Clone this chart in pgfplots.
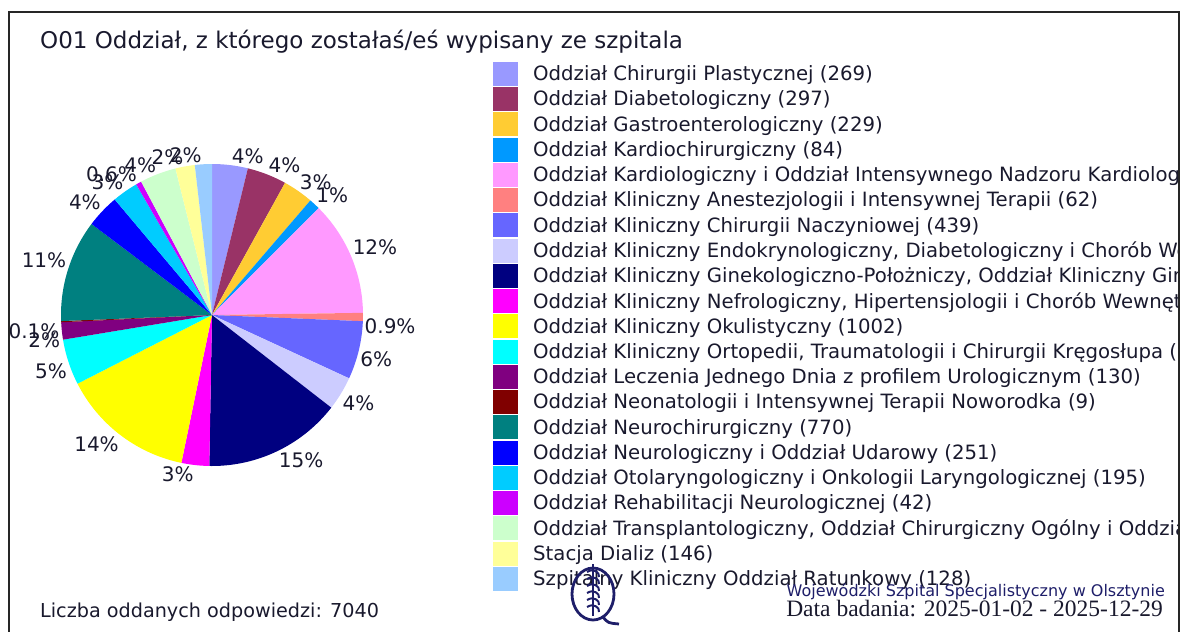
\documentclass[border=0pt]{standalone}
\usepackage{fontspec}
\setmainfont{DejaVu Sans}
\newfontfamily\seriff{Liberation Serif}
\usepackage{pgfplots}
\pgfplotsset{compat=1.18}
\usepackage{pgfplotstable}

\definecolor{pie0}{HTML}{9999FF}
\definecolor{pie1}{HTML}{993366}
\definecolor{pie2}{HTML}{FFCC33}
\definecolor{pie3}{HTML}{0099FF}
\definecolor{pie4}{HTML}{FF99FF}
\definecolor{pie5}{HTML}{FF8080}
\definecolor{pie6}{HTML}{6666FF}
\definecolor{pie7}{HTML}{CCCCFF}
\definecolor{pie8}{HTML}{000080}
\definecolor{pie9}{HTML}{FF00FF}
\definecolor{pie10}{HTML}{FFFF00}
\definecolor{pie11}{HTML}{00FFFF}
\definecolor{pie12}{HTML}{800080}
\definecolor{pie13}{HTML}{800000}
\definecolor{pie14}{HTML}{008080}
\definecolor{pie15}{HTML}{0000FF}
\definecolor{pie16}{HTML}{00CCFF}
\definecolor{pie17}{HTML}{CC00FF}
\definecolor{pie18}{HTML}{CCFFCC}
\definecolor{pie19}{HTML}{FFFF99}
\definecolor{pie20}{HTML}{99CCFF}
\definecolor{txt}{RGB}{25,25,45}
\definecolor{navy}{RGB}{30,30,105}

\pgfplotstableread[col sep=semicolon]{
n;name
269;Oddział Chirurgii Plastycznej
297;Oddział Diabetologiczny
229;Oddział Gastroenterologiczny
84;Oddział Kardiochirurgiczny
865;Oddział Kardiologiczny i Oddział Intensywnego Nadzoru Kardiologicznego
62;Oddział Kliniczny Anestezjologii i Intensywnej Terapii
439;Oddział Kliniczny Chirurgii Naczyniowej
255;Oddział Kliniczny Endokrynologiczny, Diabetologiczny i Chorób Wewnętrznych
1040;Oddział Kliniczny Ginekologiczno-Położniczy, Oddział Kliniczny Ginekologii Onkologicznej
209;Oddział Kliniczny Nefrologiczny, Hipertensjologii i Chorób Wewnętrznych
1002;Oddział Kliniczny Okulistyczny
345;Oddział Kliniczny Ortopedii, Traumatologii i Chirurgii Kręgosłupa
130;Oddział Leczenia Jednego Dnia z profilem Urologicznym
9;Oddział Neonatologii i Intensywnej Terapii Noworodka
770;Oddział Neurochirurgiczny
251;Oddział Neurologiczny i Oddział Udarowy
195;Oddział Otolaryngologiczny i Onkologii Laryngologicznej
42;Oddział Rehabilitacji Neurologicznej
273;Oddział Transplantologiczny, Oddział Chirurgiczny Ogólny i Oddział Chirurgii Onkologicznej
146;Stacja Dializ
128;Szpitalny Kliniczny Oddział Ratunkowy
}\pietable

\newcommand\pctfont{\fontsize{20bp}{24bp}\selectfont}

\begin{document}
\begin{tikzpicture}
% ---- precompute slice angles from the table
\def\total{0}
\pgfplotsforeachungrouped \i in {0,...,20}{%
  \pgfplotstablegetelem{\i}{n}\of\pietable
  \pgfmathsetmacro\total{\total+\pgfplotsretval}%
}
\def\cum{0}
\pgfplotsforeachungrouped \i in {0,...,20}{%
  \pgfplotstablegetelem{\i}{n}\of\pietable
  \edef\v{\pgfplotsretval}%
  \pgfplotstablegetelem{\i}{name}\of\pietable
  \edef\nm{\pgfplotsretval}%
  \pgfmathsetmacro\a{\cum/\total*360}%
  \pgfmathsetmacro\cum{\cum+\v}%
  \pgfmathsetmacro\b{\cum/\total*360}%
  \pgfmathsetmacro\m{(\a+\b)/2}%
  \pgfmathsetmacro\p{\v/\total*100}%
  \pgfmathtruncatemacro\k{round(\p*10)}%
  \pgfmathtruncatemacro\r{round(\p)}%
  \pgfmathsetmacro\sx{sin(\m)}%
  \pgfmathsetmacro\sy{cos(\m)}%
  \pgfmathtruncatemacro\q{\m<90 ? 1 : (\m<180 ? 2 : (\m<270 ? 3 : 4))}%
  \ifcase\q\or\def\anc{south west}\or\def\anc{north west}\or\def\anc{north east}\or\def\anc{south east}\fi
  \expandafter\xdef\csname pa\i\endcsname{\a}%
  \expandafter\xdef\csname pb\i\endcsname{\b}%
  \expandafter\xdef\csname px\i\endcsname{\sx}%
  \expandafter\xdef\csname py\i\endcsname{\sy}%
  \expandafter\xdef\csname an\i\endcsname{\anc}%
  \ifdim\p pt<0.95pt
    \expandafter\xdef\csname pl\i\endcsname{0.\k}%
  \else
    \expandafter\xdef\csname pl\i\endcsname{\r}%
  \fi
  \expandafter\xdef\csname nm\i\endcsname{\nm\space(\v)}%
}

% ---- frame
\draw[line width=2bp, black!85] (9bp,-640bp) -- (9bp,-12bp) -- (1179bp,-12bp) -- (1179bp,-640bp);

\begin{scope}
\clip (0bp,0bp) rectangle (1177bp,-632bp);
\begin{axis}[
  at={(212bp,-315bp)}, anchor=center,
  x=151bp, y=151bp,
  xmin=-1, xmax=1, ymin=-1, ymax=1,
  hide axis, clip=false,
  legend cell align=left,
  legend image code/.code={\fill[#1, draw=none] (0bp,-12bp) rectangle (25bp,12bp);},
  legend style={at={(1.4305,1.3387)}, anchor=north west, draw=none, fill=none,
    inner sep=0pt, row sep=1.25bp,
    font=\fontsize{19.7bp}{22bp}\selectfont,
    nodes={inner sep=0pt, text=txt},
    /tikz/every odd column/.append style={column sep=15bp}},
]
\pgfplotsinvokeforeach{0,...,20}{
  \edef\da{\csname pa#1\endcsname}\edef\db{\csname pb#1\endcsname}
  \addplot[fill=pie#1, draw=none, domain=\da:\db, samples=60, variable=\t]
    ({sin(\t)},{cos(\t)}) -- (axis cs:0,0) -- cycle;
  \addlegendentryexpanded{\csname nm#1\endcsname}
}
\pgfplotsinvokeforeach{0,...,20}{
  \edef\tmp{\noexpand\node[anchor=\csname an#1\endcsname, inner sep=1.5bp, font=\noexpand\pctfont, text=txt]
    at (axis cs:\csname px#1\endcsname,\csname py#1\endcsname) {\csname pl#1\endcsname\noexpand\%};}
  \tmp
}
\end{axis}
\end{scope}

% ---- texts
\node[anchor=base west, font=\fontsize{23bp}{26bp}\selectfont, text=txt, inner sep=0pt]
  at (40bp,-48bp) {O01 Oddział, z którego zostałaś/eś wypisany ze szpitala};
\node[anchor=base west, font=\fontsize{19.2bp}{22bp}\selectfont, text=txt, inner sep=0pt]
  at (40bp,-617bp) {Liczba oddanych odpowiedzi: 7040};
\node[anchor=base east, font=\fontsize{16bp}{18bp}\selectfont, text=navy, inner sep=0pt]
  at (1165bp,-596bp) {Wojewódzki Szpital Specjalistyczny w Olsztynie};
\node[anchor=base east, font=\seriff\fontsize{23.5bp}{26bp}\selectfont, text=txt, inner sep=0pt]
  at (1163bp,-616bp) {Data badania: 2025-01-02 - 2025-12-29};

% ---- logo
\begin{scope}[navy]
\draw[line width=2.8bp] (593bp,-594bp) ellipse (21bp and 26bp);
\draw[line width=2.8bp] (603bp,-617bp) .. controls (608bp,-623bp) .. (619bp,-624bp);
\draw[line width=1.6bp] (593bp,-564bp) -- (593bp,-616bp);
\foreach \k in {0,...,5}{
  \draw[line width=2bp] (587bp,{-572bp-7bp*\k}) .. controls (593bp,{-568bp-7bp*\k}) and (600bp,{-572bp-7bp*\k}) .. (599bp,{-577bp-7bp*\k});
}
\end{scope}

\pgfresetboundingbox
\path[use as bounding box] (0bp,0bp) rectangle (1181bp,-632bp);
\end{tikzpicture}
\end{document}
